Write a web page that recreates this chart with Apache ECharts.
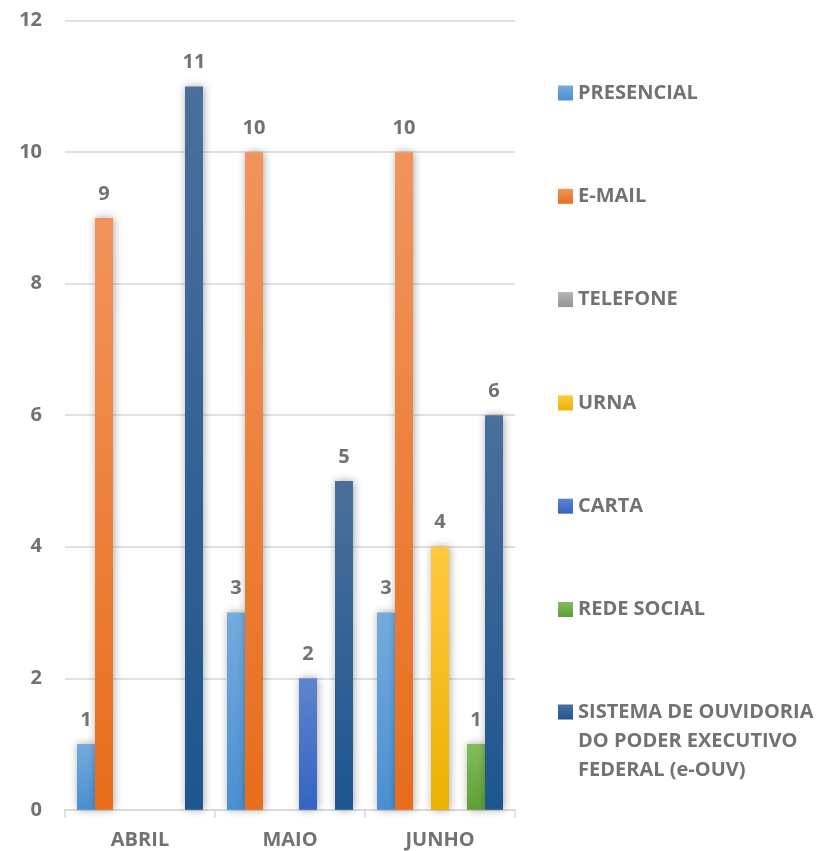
<!DOCTYPE html>
<html>
<head>
<meta charset="utf-8">
<script src="https://cdn.jsdelivr.net/npm/echarts@6/dist/echarts.min.js"></script>
<style>
  html, body { margin: 0; padding: 0; background: #fff; }
  #chart { width: 825px; height: 851px; }
</style>
</head>
<body>
<div id="chart"></div>
<script>
// Months on the category axis
const months = ['ABRIL', 'MAIO', 'JUNHO'];

// Manifestações per channel and month (null = no record, no bar)
const presencial = [1, 3, 3];
const email = [9, 10, 10];
const telefone = [null, null, null];
const urna = [null, null, 4];
const carta = [null, 2, null];
const redeSocial = [null, null, 1];
const eOuv = [11, 5, 6];

const seriesNames = [
  'PRESENCIAL', 'E-MAIL', 'TELEFONE', 'URNA', 'CARTA', 'REDE SOCIAL',
  'SISTEMA DE OUVIDORIA\nDO PODER EXECUTIVO\nFEDERAL (e-OUV)'
];
const seriesData = [presencial, email, telefone, urna, carta, redeSocial, eOuv];

// Value-axis ticks
const yMin = 0, yMax = 12, yStep = 2;

const FONT = '"Open Sans"';
const FONT_SIZE = 20;
const TEXT_GREY = '#757171';

// top / bottom gradient stops per channel
const palette = [
  ['#75abde', '#4a8fd1'],
  ['#f1945c', '#e86d1c'],
  ['#b5b5b5', '#959595'],
  ['#ffc93f', '#eab200'],
  ['#5f83cf', '#3364c3'],
  ['#82bd5a', '#5f9e36'],
  ['#4b6f9b', '#1d5690']
];

function grad(c) {
  return new echarts.graphic.LinearGradient(0, 0, 0, 1, [
    { offset: 0, color: c[0] },
    { offset: 1, color: c[1] }
  ]);
}

const series = seriesData.map((d, i) => ({
  name: seriesNames[i],
  type: 'bar',
  data: d,
  barGap: '0%',
  barCategoryGap: '16%',
  itemStyle: {
    color: grad(palette[i]),
    shadowColor: 'rgba(0,0,0,0.35)',
    shadowBlur: 8,
    shadowOffsetX: 1
  },
  label: {
    show: true,
    position: 'top',
    distance: 14,
    color: TEXT_GREY,
    fontFamily: FONT,
    fontWeight: 'bold',
    fontSize: FONT_SIZE
  }
}));

const legendText = {
  color: TEXT_GREY,
  fontFamily: FONT,
  fontWeight: 'bold',
  fontSize: FONT_SIZE,
  lineHeight: 29
};

const chart = echarts.init(document.getElementById('chart'));
chart.setOption({
  backgroundColor: '#ffffff',
  animation: false,
  grid: { left: 65, right: 310, top: 20.7, bottom: 41.2, containLabel: false },
  legend: [
    {
      orient: 'vertical',
      left: 558,
      top: 78.5,
      padding: 0,
      itemWidth: 15,
      itemHeight: 15,
      itemGap: 74.3,
      icon: 'rect',
      data: seriesNames.slice(0, 6),
      textStyle: legendText,
      selectedMode: false
    },
    {
      orient: 'vertical',
      left: 558,
      top: 639.5,
      padding: 0,
      itemWidth: 15,
      itemHeight: 15,
      icon: 'rect',
      data: [seriesNames[6]],
      // two leading blank lines keep the icon level with the first text line
      formatter: name => '\n\n' + name,
      textStyle: legendText,
      selectedMode: false
    }
  ],
  xAxis: {
    type: 'category',
    data: months,
    axisLine: { lineStyle: { color: '#d9d9d9', width: 1.5 } },
    axisTick: { show: true, length: 8, lineStyle: { color: '#d9d9d9', width: 1.5 } },
    axisLabel: {
      color: TEXT_GREY,
      fontFamily: FONT,
      fontWeight: 'bold',
      fontSize: FONT_SIZE,
      margin: 20
    }
  },
  yAxis: {
    type: 'value',
    min: yMin,
    max: yMax,
    interval: yStep,
    axisLine: { show: false },
    axisTick: { show: false },
    splitLine: { lineStyle: { color: '#d9d9d9', width: 1.5 } },
    axisLabel: {
      color: TEXT_GREY,
      fontFamily: FONT,
      fontWeight: 'bold',
      fontSize: FONT_SIZE,
      margin: 23
    }
  },
  series: series
});
</script>
</body>
</html>
